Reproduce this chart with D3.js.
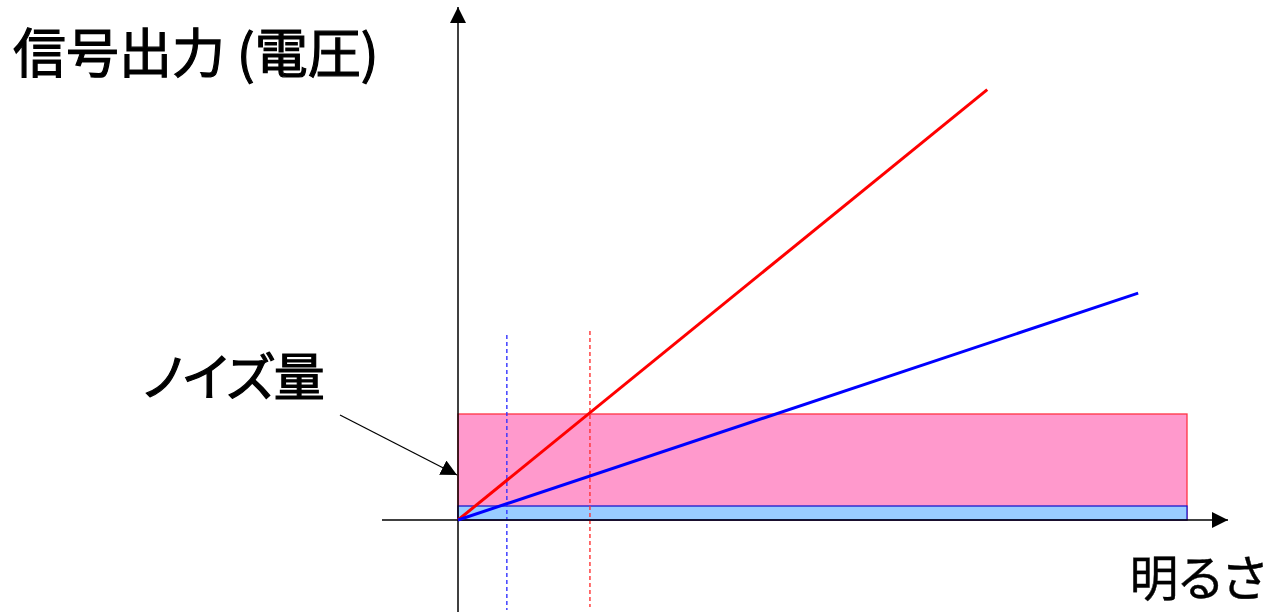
<!DOCTYPE html>
<html>
<head>
<meta charset="utf-8">
<script src="https://cdn.jsdelivr.net/npm/d3@7"></script>
<style>
  body { margin: 0; background: #fff; }
  text { font-family: "Noto Sans CJK JP", "Noto Sans", sans-serif; fill: #000; }
</style>
</head>
<body>
<div id="wrapper"></div>
<script>
// brightness (x) and signal (y) in arbitrary units, noise level of red sensor = 1
const lineNames = ["red", "blue"]
const lineEndX = [7.26, 9.33]
const lineEndY = [4.06, 2.14]
const noiseNames = ["red", "blue"]
const noiseTop = [1.0, 0.132]
const noiseEndX = 10
const thresholdX = [1.81, 0.67]   // red, blue dashed lines
const labels = ["信号出力 (電圧)", "ノイズ量", "明るさ"]

function drawChart() {
  const dms = {
    width: 1269,
    height: 612,
    originX: 458,
    originY: 520,
  }

  const xScale = d3.scaleLinear()
    .domain([0, 10])
    .range([dms.originX, 1187])

  const yScale = d3.scaleLinear()
    .domain([0, 1])
    .range([dms.originY, 414])

  const wrapper = d3.select("#wrapper")
    .append("svg")
    .attr("width", dms.width)
    .attr("height", dms.height)

  const defs = wrapper.append("defs")
  defs.append("marker")
      .attr("id", "arrow")
      .attr("viewBox", "0 0 16 16")
      .attr("refX", 16)
      .attr("refY", 8)
      .attr("markerWidth", 16)
      .attr("markerHeight", 16)
      .attr("markerUnits", "userSpaceOnUse")
      .attr("orient", "auto")
    .append("path")
      .attr("d", "M0,0 L16,8 L0,16 Z")
      .attr("fill", "#000")

  // noise rectangles (red sensor behind, blue sensor in front)
  const fills = { red: "#ff99cc", blue: "#99ccff" }
  const strokes = { red: "#ff3344", blue: "#1a1acc" }
  wrapper.append("g")
    .selectAll("rect")
    .data(noiseNames)
    .join("rect")
      .attr("x", xScale(0))
      .attr("y", (d, i) => yScale(noiseTop[i]))
      .attr("width", xScale(noiseEndX) - xScale(0))
      .attr("height", (d, i) => yScale(0) - yScale(noiseTop[i]))
      .attr("fill", d => fills[d])
      .attr("stroke", d => strokes[d])
      .attr("stroke-width", 1.3)

  // dashed threshold lines
  const dashColors = ["#ff3333", "#3333ff"]
  wrapper.append("g")
    .selectAll("line")
    .data(thresholdX)
    .join("line")
      .attr("x1", d => xScale(d))
      .attr("x2", d => xScale(d))
      .attr("y1", (d, i) => i == 0 ? 331 : 335)
      .attr("y2", (d, i) => i == 0 ? 607 : 610)
      .attr("stroke", (d, i) => dashColors[i])
      .attr("stroke-width", 1.4)
      .attr("stroke-dasharray", "4 3")

  // axes
  const axes = wrapper.append("g")
  axes.append("line")
      .attr("x1", 382).attr("y1", yScale(0))
      .attr("x2", 1228).attr("y2", yScale(0))
      .attr("stroke", "#000")
      .attr("stroke-width", 1.5)
      .attr("marker-end", "url(#arrow)")
  axes.append("line")
      .attr("x1", xScale(0)).attr("y1", 612)
      .attr("x2", xScale(0)).attr("y2", 7)
      .attr("stroke", "#000")
      .attr("stroke-width", 1.5)
      .attr("marker-end", "url(#arrow)")

  // signal lines
  const lineColors = { red: "#ff0000", blue: "#0000ff" }
  const lineGen = d3.line()
    .x(d => xScale(d[0]))
    .y(d => yScale(d[1]))
  wrapper.append("g")
    .selectAll("path")
    .data(lineNames)
    .join("path")
      .attr("d", (d, i) => lineGen([[0, 0], [lineEndX[i], lineEndY[i]]]))
      .attr("fill", "none")
      .attr("stroke", d => lineColors[d])
      .attr("stroke-width", 3)

  // noise pointer
  wrapper.append("line")
      .attr("x1", 340).attr("y1", 415)
      .attr("x2", 457).attr("y2", 475)
      .attr("stroke", "#000")
      .attr("stroke-width", 1.3)
      .attr("marker-end", "url(#arrow)")

  // labels (regular weight with a thin outline to thicken strokes)
  wrapper.append("text")
      .attr("x", 13).attr("y", 73)
      .attr("font-size", 53)
      .attr("stroke", "#000")
      .attr("stroke-width", 1.2)
      .text(labels[0])
  wrapper.append("text")
      .attr("x", 143).attr("y", 396)
      .attr("font-size", 51)
      .attr("stroke", "#000")
      .attr("stroke-width", 1.2)
      .style("font-feature-settings", "'palt'")
      .text(labels[1])
  wrapper.append("text")
      .attr("x", 1266).attr("y", 596)
      .attr("text-anchor", "end")
      .attr("font-size", 49)
      .attr("stroke", "#000")
      .attr("stroke-width", 0.4)
      .style("font-feature-settings", "'palt'")
      .text(labels[2])
}

drawChart()
</script>
</body>
</html>
